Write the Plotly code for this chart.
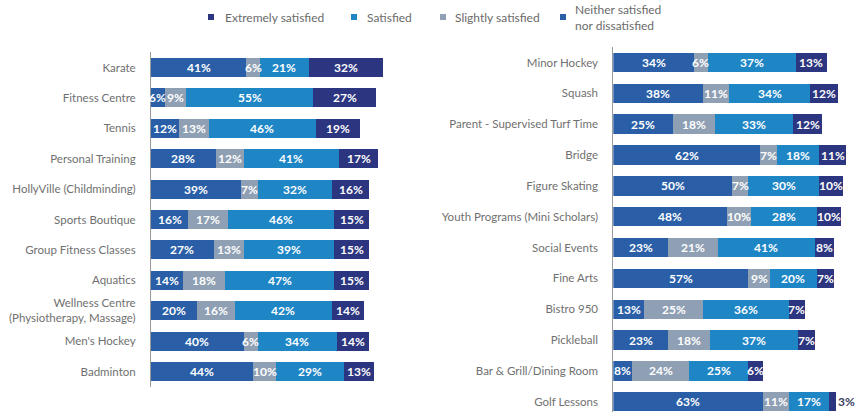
import plotly.graph_objects as go

# ---- data -------------------------------------------------------------
left_categories = [
    "Karate", "Fitness Centre", "Tennis", "Personal Training",
    "HollyVille (Childminding)", "Sports Boutique", "Group Fitness Classes",
    "Aquatics", "Wellness Centre<br>(Physiotherapy, Massage)", "Men's Hockey",
    "Badminton",
]
left_neither = [41, 6, 12, 28, 39, 16, 27, 14, 20, 40, 44]
left_slightly = [6, 9, 13, 12, 7, 17, 13, 18, 16, 6, 10]
left_satisfied = [21, 55, 46, 41, 32, 46, 39, 47, 42, 34, 29]
left_extremely = [32, 27, 19, 17, 16, 15, 15, 15, 14, 14, 13]

right_categories = [
    "Minor Hockey", "Squash", "Parent - Supervised Turf Time", "Bridge",
    "Figure Skating", "Youth Programs (Mini Scholars)", "Social Events",
    "Fine Arts", "Bistro 950", "Pickleball", "Bar & Grill/Dining Room",
    "Golf Lessons",
]
right_neither = [34, 38, 25, 62, 50, 48, 23, 57, 13, 23, 8, 63]
right_slightly = [6, 11, 18, 7, 7, 10, 21, 9, 25, 18, 24, 11]
right_satisfied = [37, 34, 33, 18, 30, 28, 41, 20, 36, 37, 25, 17]
right_extremely = [13, 12, 12, 11, 10, 10, 8, 7, 7, 7, 6, 3]

series_names = ["Neither satisfied nor dissatisfied", "Slightly satisfied",
                "Satisfied", "Extremely satisfied"]

# ---- styling ----------------------------------------------------------
COLORS = {
    "Neither satisfied nor dissatisfied": "#2a5fa8",
    "Slightly satisfied": "#8fa0b4",
    "Satisfied": "#1f86c6",
    "Extremely satisfied": "#2c3580",
}
W, H = 861, 412
FONT = "Lato"
LABEL_GREY = "#707070"
OUTSIDE_LABEL = "#3b4160"
BAR_WIDTH = 0.63

fig = go.Figure()


def add_panel(cats, values_by_series, xa, ya):
    for name, vals in zip(series_names, values_by_series):
        fig.add_trace(go.Bar(
            y=cats, x=vals, orientation="h", name=name,
            marker=dict(color=COLORS[name], line=dict(width=0)),
            width=BAR_WIDTH, xaxis=xa, yaxis=ya, showlegend=False,
            hoverinfo="skip",
        ))
    # value labels centred on each segment; tiny segments get theirs
    # just past the end of the bar
    for i, cat in enumerate(cats):
        start = 0
        total = sum(v[i] for v in values_by_series)
        for vals in values_by_series:
            v = vals[i]
            if v <= 3:
                x, anchor, col = total, "left", OUTSIDE_LABEL
            else:
                x, anchor, col = start + v / 2, "center", "white"
            fig.add_annotation(
                x=x, y=cat, xref=xa, yref=ya, text=f"{v}%",
                showarrow=False, xanchor=anchor, yanchor="middle",
                font=dict(family=FONT, size=12, color=col, weight="bold"),
            )
            start += v


add_panel(left_categories,
          [left_neither, left_slightly, left_satisfied, left_extremely],
          "x", "y")
add_panel(right_categories,
          [right_neither, right_slightly, right_satisfied, right_extremely],
          "x2", "y2")

axis_common = dict(showgrid=False, zeroline=False, showticklabels=False,
                   fixedrange=True)
cat_axis = dict(type="category", showgrid=False, zeroline=False,
                showline=True, linecolor="#9a9a9a", linewidth=1,
                ticks="", ticklabelstandoff=12,
                tickfont=dict(family=FONT, size=11.5, color=LABEL_GREY))

left_top, left_step = 52.3, 30.4
right_top, right_step = 47.1, 30.84

fig.update_layout(
    width=W, height=H,
    margin=dict(l=0, r=0, t=0, b=0),
    paper_bgcolor="white", plot_bgcolor="white",
    barmode="stack",
    xaxis=dict(domain=[151 / W, 383 / W], range=[0, 100], **axis_common),
    xaxis2=dict(domain=[613.3 / W, 850.3 / W], range=[0, 100],
                anchor="y2", **axis_common),
    yaxis=dict(domain=[1 - (left_top + 11 * left_step) / H, 1 - left_top / H],
               range=[10.5, -0.5], anchor="x",
               categoryorder="array", categoryarray=left_categories,
               **cat_axis),
    yaxis2=dict(domain=[0, 1 - right_top / H],
                range=[-0.5 + (H - right_top) / right_step, -0.5],
                anchor="x2",
                categoryorder="array", categoryarray=right_categories,
                **cat_axis),
    font=dict(family=FONT),
)

# ---- legend drawn as small squares with captions ----------------------
legend_items = [
    ("Extremely satisfied", 211, 222.5),
    ("Satisfied", 354, 364.5),
    ("Slightly satisfied", 443, 453),
    ("Neither satisfied<br>nor dissatisfied", 563, 573),
]
legend_keys = ["Extremely satisfied", "Satisfied", "Slightly satisfied",
               "Neither satisfied nor dissatisfied"]
for (label, mx, tx), key in zip(legend_items, legend_keys):
    fig.add_shape(type="rect", xref="paper", yref="paper",
                  x0=(mx - 3) / W, x1=(mx + 3) / W,
                  y0=1 - 20 / H, y1=1 - 14 / H,
                  fillcolor=COLORS[key], line=dict(width=0))
    fig.add_annotation(x=tx / W, y=1 - 17.5 / H, xref="paper", yref="paper",
                       text=label, showarrow=False, xanchor="left",
                       yanchor="middle", align="left",
                       font=dict(family=FONT, size=12, color="#6b6b6b"))

fig.write_html("out.html")
